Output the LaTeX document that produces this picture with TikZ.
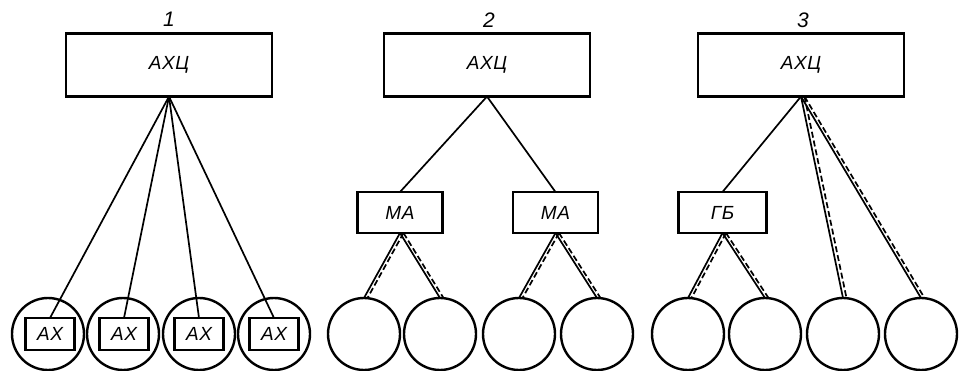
\documentclass[tikz,border=0pt]{standalone}
\usepackage{fontspec}
\setmainfont{Liberation Sans}
\newfontfamily\lblfont[LetterSpace=3]{Liberation Sans}
\newcommand{\dlink}[2]{%
	\draw[link] (#1) -- (#2);
	\draw[link, dash pattern=on 6pt off 3pt] ([xshift=3.5pt]#1) -- ([xshift=3.5pt]#2);}

\begin{document}
\begin{tikzpicture}[x=1pt, y=-1pt, every node/.style={font=\lblfont\itshape\fontsize{19}{21}\selectfont},
		topbox/.style={draw, line width=2.8pt, minimum width=206pt, minimum height=63pt, inner sep=0pt, outer sep=0pt},
		midbox/.style={draw, line width=2.2pt, minimum width=85pt, minimum height=41pt, inner sep=0pt, outer sep=0pt},
		axbox/.style={draw, line width=2.6pt, minimum width=49pt, minimum height=32pt, inner sep=0pt, outer sep=0pt},
		unit/.style={draw, circle, line width=2.4pt, minimum size=72pt, inner sep=0pt, outer sep=0pt},
		num/.style={font=\itshape\fontsize{21}{23}\selectfont, inner sep=0pt},
		link/.style={line width=1.7pt}]
			\useasboundingbox (0,0) rectangle (959,371);

			% Scheme 1
			\node[num] (num1) at (169,19) {1};
			\node[topbox] (top1) at (169,65) {АХЦ};
			\node[unit] (c11) at (48,334) {};
			\node[unit] (c12) at (123,334) {};
			\node[unit] (c13) at (199,334) {};
			\node[unit] (c14) at (274,334) {};
			\node[axbox] (ax1) at (50,334) {АХ};
			\node[axbox] (ax2) at (124,334) {АХ};
			\node[axbox] (ax3) at (199,334) {АХ};
			\node[axbox] (ax4) at (274,334) {АХ};
			\draw[link] (top1.south) -- (ax1.north);
			\draw[link] (top1.south) -- (ax2.north);
			\draw[link] (top1.south) -- (ax3.north);
			\draw[link] (top1.south) -- (ax4.north);

			% Scheme 2
			\node[num] (num2) at (489,20) {2};
			\node[topbox] (top2) at (487,65) {АХЦ};
			\node[midbox] (ma1) at (400,212.5) {МА};
			\node[midbox] (ma2) at (555.5,212.5) {МА};
			\node[unit] (c21) at (364,334) {};
			\node[unit] (c22) at (440,334) {};
			\node[unit] (c23) at (519,334) {};
			\node[unit] (c24) at (597,334) {};
			\draw[link] (top2.south) -- (ma1.north);
			\draw[link] (top2.south) -- (ma2.north);
			\dlink{ma1.south}{c21.north}
			\dlink{ma1.south}{c22.north}
			\dlink{ma2.south}{c23.north}
			\dlink{ma2.south}{c24.north}

			% Scheme 3
			\node[num] (num3) at (803,20) {3};
			\node[topbox] (top3) at (801,65) {АХЦ};
			\node[midbox, minimum width=88pt] (gb) at (722.5,212.5) {ГБ};
			\node[unit] (c31) at (688,334) {};
			\node[unit] (c32) at (765,334) {};
			\node[unit] (c33) at (843,334) {};
			\node[unit] (c34) at (921,334) {};
			\draw[link] (top3.south) -- (gb.north);
			\dlink{gb.south}{c31.north}
			\dlink{gb.south}{c32.north}
			\dlink{top3.south}{c33.north}
			\dlink{top3.south}{c34.north}
		\end{tikzpicture}
\end{document}
